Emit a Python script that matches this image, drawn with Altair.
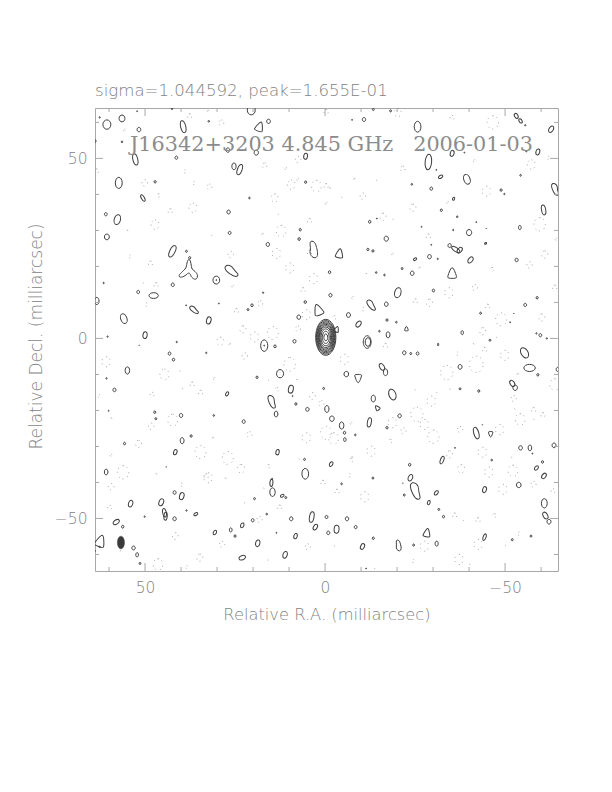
import altair as alt
import pandas as pd

# (ra, dec, length) all in milliarcsec
round_blobs = [(60.6,59.4,2.6),(56.4,61.1,1.9),(15.7,60.3,1.2),(51.7,58.0,1.2),(56.4,54.6,.5),(41.3,50.2,.9),(47.2,43.5,.7),(5.4,43.4,.7),(60.9,34.5,.9),(60.6,28.2,1.6),(26.8,35.1,1.1),(26.5,29.3,.9),(6.9,30.2,.7),(7.2,27.6,.8),(15.9,26.1,1.1),(38.5,24.2,.6),(37.6,22.4,.7),(21,39,.5),(32.3,60.3,.5),(62.6,61.4,.4),(64,54.8,.9),(27,52.3,1.2),(19.1,51.6,1.4),(42.5,63.8,.5),(52.2,63.1,.3),(20.5,63.4,2.6),
(-13.4,63.6,.6),(-18.2,63.2,.6),(-10.8,60.8,1.1),(-7.5,60.7,.3),(-55.6,59.2,.4),(-38.7,51.6,.3),(-55.9,52,.4),(-30.9,46.8,.3),(-54.3,45.3,.5),(-24.1,42.8,.5),(-29.5,41.6,.9),(-48.9,41.2,.7),(-49.8,40.1,.4),(-32.3,35.6,.7),(-36.7,33.8,.5),(-12.4,32.4,.8),(-14.4,33.3,.3),(-26.8,31,.3),(-35.6,30.1,.4),(-40,29.4,1.7),(-42,32.3,.3),(-44.8,30.5,.2),(-17,27.7,1.4),(-34.6,25.8,1.1),(-29.5,26,.3),(-11.9,24.7,.7),(-13.3,24.3,.7),(-29,22.7,1.2),(-31.3,22.1,.4),(-53.2,21.8,1),(-21.4,19.4,.6),(-24.2,18.1,1.2),(-14.2,18.3,.5),(-16.5,17.6,.5),(-1.25,18.4,.8),
(30.2,16.2,2.2),(30.2,16.2,.3),(42.3,14.9,1),(51.9,12.9,.9),(61.5,15.4,.4),(38.6,9.2,.3),(29.5,9.7,.3),(60.4,.5,.4),(41.2,-1.0,.4),(51.6,-1.9,.2),(43.2,-4.2,.9),(42.1,-5.9,.8),(33,-4,.4),(17.2,12.7,.4),(20.3,9.2,.8),(21.4,8,.6),(5.5,10.1,.8),(7.3,5.9,1.2),(8.5,-0.8,1),(16.9,-2,.3),(13.9,-2.2,.8),(60.7,-11.1,.4),(18.9,-10.8,.7),(12.5,-9.8,2.3),(.4,-13.9,.6),(58.5,-14.3,1),(9,-16,.3),(8.1,-18.2,.7),(4.9,-19.7,1.1),(47.3,-20.5,.7),(47,-22.3,.6),(40,-21.4,1.1),(30.9,-21.4,.5),(22.6,-23.1,1),(60.1,-20.1,.3),(37.2,-27.1,.7),(55.7,-29.2,.7),(5.7,-33.6,.6),(44.1,-35.7,.2),(14.7,-39,.3),
(-1.5,12,1.0),(-30.1,13.3,.8),(-17,9.5,1.2),(-6.5,6.5,1.3),(-17.2,5.1,.7),(-19.8,4.5,.5),(-15.1,2,.5),(-55.6,9.3,.9),(-58.9,11.3,.7),(-43.2,7,.6),(-51.4,4.5,.3),(-52.4,6.9,.2),(-45.8,-.5,.6),(-58.7,1.4,.4),(-59.8,.9,.9),(-61.6,0,.4),(-22,-4,1.1),(-23.8,-4.2,.6),(-25.7,-4.2,.9),(-59.1,-10.1,.7),(-37.5,-7.9,1.3),(-5.9,-9.9,1.5),(-20.7,-21.5,1.1),(-1.9,-22.3,1.5),(-17.2,-24.8,.7),(-5.4,-26.2,.8),(-8.4,-26.8,.5),(-52.8,-13.7,1.5),(-37.5,-14,.6),(-42.7,-14.6,.7),(-54.3,-30.4,1.2),(-57.6,-32,.3),(-63.6,-29.7,1.3),(-36.1,-30.4,.3),(-43.7,-24,.2),(-64.7,-8.6,1.2),
(-46.3,-33.8,.5),(-23.5,-35.1,.8),(-60.4,-34.3,.7),(-13.3,-38.8,.6),(-53.8,-40.7,1.5),(-4.6,-40.4,.5),(-21.6,-40.2,.2),(-22,-43.5,.6),(-31.6,-47.5,.6),(-32.9,-49.5,.7),(-62.2,-50.9,1.3),(-6.1,-50.1,1.1),(-8.5,-52.4,.9),(-13.4,-55.5,.7),(-52,-55.9,.6),(-57.2,-54.9,.6),(-24.6,-57.4,.6),(-11.4,-63.9,.3),
(41.8,-42.8,1),(10.9,-44.2,.6),(19.6,-44.5,.6),(56.2,-52.3,.8),(50.1,-49.5,.4),(38.5,-47.8,.4),(41.8,-50.1,1.1),(9.4,-50.1,1.1),(-.4,-49.6,.9),(20.1,-50.5,.9),(16.2,-48.8,.5),(25,-54.9,.7),(13.5,-54,.3),(-.9,-54,1),(53.2,-58.2,1.1),(51.4,-62.5,.6),(62.6,-57.9,.4),(64,-59,.5)]

# (ra, dec, length, position angle)
oval_blobs = [(25.3,47.8,1.9,0),(5.4,50.6,1.7,10),(57.3,43.2,3.1,0),(57.7,33.0,2.8,15),
(-53.1,61.8,1.5,150),(-54.3,60.4,1.3,150),(-25.7,58.8,3.0,0),(-62.8,58.1,1.9,35),(-35.3,51.4,1.7,15),(-59.1,51.8,1.7,15),(-32.1,44.9,1.3,60),(-39.4,44.2,2.8,160),(-35.7,38.8,.9,20),(-54.1,30.8,1.2,0),(-44.6,26.4,.6,60),(-37.4,24.5,1.8,40),(-25,22,1,60),(-40.4,21.8,1.9,40),
(47.6,11.9,2.6,90),(63.4,10.4,2,0),(32.3,5,2,15),(55.9,5.5,2.8,160),(50,.9,1.9,10),(16.9,-2,3.2,0),(54.9,-8.9,2,0),(9.5,-14.1,2.2,10),(27.2,-15.4,1.2,30),(-.5,-19.6,1.9,0),(13.6,-21,1.6,0),(39.7,-28.4,1.7,0),(41.6,-31.6,1.5,20),(13.2,-31.6,1.5,10),(60.8,-37.1,1.6,0),(5.5,-37.6,3,0),
(-20.2,12.7,2.8,15),(-9.3,4,1.9,40),(-17.5,1,1.7,0),(-11.7,-1,3.5,0),(-11.9,-1,2.4,0),(-38.1,1.6,1.1,0),(-55.4,-4,3.1,150),(-56.8,-8.2,3.2,90),(-15.8,-7.9,2,150),(-16.8,-9.4,1.9,0),(-18.7,-15.6,3.1,160),(-13.4,-16.7,1.9,0),(-4.6,-24.2,2,0),(-5.5,-28.1,1.1,0),(-52,-12.5,1.9,150),(-56.9,-30.4,1.6,0),
(-1.7,-34.9,1.4,30),(-58.7,-36,1.4,40),(-60.8,-38.2,1.7,35),(-23.7,-38.7,1.9,25),(-44.3,-42,1.7,15),(-30.9,-42.9,1.4,40),(-28.8,-45.6,1.2,20),(-60.9,-45.8,2.6,0),(-61.2,-49.2,2,150),(-3.2,-53,2.2,5),(-10.4,-57.8,1.7,25),(-31,-57,1.4,0),
(14.6,-42.7,2.4,0),(39.8,-43.8,2,15),(11.9,-43.7,1.1,60),(54,-45.9,1.9,20),(45.5,-45.5,2,20),(58,-51,1.9,60),(35.9,-48.8,1.2,60),(23,-51.9,1.4,25),(2.7,-52.4,1.7,30),(30.6,-53.9,1.3,30),(26.2,-53.2,1.2,0),(8.2,-54.9,1.5,15),(18.7,-56.9,1.9,15),(52.2,-60.1,1.2,0),(23,-60.9,1.9,70),(11.1,-60.1,1.9,20)]

narrow_blobs = [(39.4,58.8,3.4,165),(52.7,49.7,3.2,165),(23.7,46.9,3.0,20),(50.6,39.0,2.0,150),(42.4,24.2,3.5,25),
(-28.7,49,4.3,5),(-60.7,35.7,2.8,170),(-36.3,24.7,2.6,125),(-31.4,-1.7,.8,0),(-42,-26.3,3.3,165),(-12.3,-23.3,2.6,10),(-32.5,-33.8,2.2,20),(-44.3,-55.2,1.9,20),
(14.9,-40.1,2,5),(44.6,-48.4,2.4,170),(44.3,-49.4,2.2,5),(3.7,-49.6,3,10)]

bell_blobs = [(18.2,58.8,2.8,20),(-4,23.6,2.6,10),(-35.3,18.1,3.1,0),(1.9,7.9,3.2,340),(-22.6,2.7,1.3,0),(-9.2,-11.1,2.4,180),(-14.5,-19.3,1.5,320),(-46,-26.6,1.6,180),(-28.3,-54,2.4,10),(62.4,-56.3,3.4,20),(-3.2,2.5,1.7,20)]

bean_blobs = [(3.2,24.7,4.6,0),(-63.9,41.4,3.4,170),(26,18.7,4.2,140),(36.4,7.9,2.8,140),(14.8,-17.6,3.7,170),(-12.8,9.2,3.3,155),(-25.1,-42.4,4.8,170),(-20.4,-57.5,3,0)]

forked_blobs = [(37.8,19,5.8,0)]

# negative contours (ra, dec, length)
negative_blobs = [(50.1,43.2,1.8),(32.1,42.1,1.6),(36.7,36.3,2.6),(43,35.3,1.4),(47.2,31.6,2.6),(54.9,29.8,.5),(46.3,39.7,1),(36.5,43.2,.9),(39,46.4,.9),(63.5,46.4,1.4),(37.6,61.7,1.4),(28.8,59.9,1.6),(32.5,63.1,.6),(55.7,57.8,.7),(16.8,48,1.5),(10.8,47.1,.7),(7.5,49.7,1.8),(9.4,42.7,2.6),(7.5,44.1,.7),(2.4,42.3,3.2),(-.3,42.3,1.4),(14,39,2.3),(-.3,37.5,.7),(4.3,32.6,1.4),(12.2,29.8,3.2),(17.3,28.9,.6),(31.6,28.6,.3),(13.1,34.4,.3),(13.5,23.6,2.8),(4.3,23.8,1.4),(26.2,23.3,1.8),(54.3,22.8,.9),(-.3,62.9,1.4),
(48.5,20.8,1.4),(9.8,19.6,2.8),(3.2,16.6,2.8),(6.1,13.4,1.4),(5.2,6.6,2.8),(7.5,2.7,1.6),(18,9.7,1.6),(24.6,7.6,1.4),(22.8,2.5,2),(46.9,14.8,1.4),(50.6,15.3,.4),(25.6,14.5,.7),(49.7,9.4,.9),(19.6,.4,2.8),(14.5,1.5,3.6),(29.1,-.8,2.3),(26.4,-1.7,.6),(22.3,-4.9,1.8),(60.8,-6.5,2.8),(44.6,-10,3),(40.4,-9.1,.3),(9.8,-7.2,3.8),(30.7,-11.2,.7),(36.9,-12.8,1.4),(34.6,-15.1,1.4),(48,-15.6,1.3),(62.8,-16,.8),(13.3,-14.2,1.1),(7.8,-11.6,.5),(3.5,-16,1.9),(1,-18.1,1.6),(42.3,-22.7,3.3),(48.3,-24.4,1.8),(59.4,-22.3,.5),(21,-26.7,1.6),(-.3,-26.2,3.6),(31.1,-27.7,.6),(51.8,-29.3,2),(5.2,-27.6,2.8),(34.6,-31.6,3.6),(59.4,-32.5,.7),(27,-33.2,3.6),(7.3,-33.6,.4),(23.3,-36.2,2.4),(56.1,-37.2,3.7),(33,-38.3,1.4),(15.7,-35.5,1),(46.9,-37.8,.5),(27.6,-39,.5),(39.7,-14,.3),(15.8,-11.7,.3),
(-20.2,62.7,2.3),(-35.3,61.3,1.3),(-46.6,60,3.7),(-8.2,44.2,.6),(-1.3,41.6,.5),(-10.5,39.5,1.8),(-4.5,39.1,.4),(-14.2,43.9,.3),(-21.6,47.1,1.5),(-24.4,36.3,2),(-41.5,49.3,.7),(-44.8,40.9,2.8),(-34.1,37.7,.7),(-57.3,48.3,2.6),(-61.9,50.2,.9),(-59.6,31.7,3.7),(-64.2,27.5,.7),(-28.7,28.3,1.4),(-16.1,33.8,2),(-18.8,32.9,.4),(-18.8,23.4,.7),(-61,23.3,2),(-56.8,20.4,1.8),(-26.3,19.5,.6),(-46.4,19.2,1.1),(-11.4,17.8,.5),
(-7.7,11.3,.7),(-10.5,8.2,.9),(-2.6,5.8,1.1),(-5.4,-5.8,2.8),(-16.8,-2.1,1.4),(-25.1,10.3,1.4),(-29,9.9,2),(-34.4,12.7,2.8),(-41.6,14.1,1.7),(-45.2,8.8,1.4),(-48.9,5.3,3.6),(-60.2,5.8,2),(-63.8,14.1,1.4),(-43.8,2,2),(-41.2,-1.7,.5),(-47.5,.2,.4),(-44.3,-3.2,1.4),(-36.7,-4.2,.9),(-49.9,-4.7,2.8),(-42,-7.2,4.5),(-33.8,-9.5,4),(-53.6,-10,.6),(-63.8,-12.8,3.2),(-29.5,-17.4,2.8),(-52.4,-16.7,1.7),(-24.9,-14.4,.4),(-34.6,-14.2,.4),(-30.9,-15.1,.3),(-25.5,-21.1,4),(-27.6,-23.9,2.8),(-30.1,-27.3,3.7),(-18.7,-23.4,2.8),(-21.8,-25.7,1.7),(-18.2,-28.5,1.1),(-7.3,-23.6,.7),(-2.4,-27.8,3.2),(-54.2,-22.5,3.2),(-52.6,-19.7,.4),(-57.9,-19.9,1.4),(-60.5,-21.3,1.4),(-37.5,-25.3,1.7),(-48.5,-25.3,2.8),(-57.9,-22.5,.3),(-12.8,-31.3,2.8),(-43.7,-31.6,2.8),(-34.6,-32.2,2),(-7.5,-33.1,.5),(-51.7,-33.1,.4),
(-37.8,-36.2,2.3),(-45.5,-37.1,2.8),(-52.2,-36.8,3.2),(-57.9,-40.5,1.7),(-49.4,-41.9,2.8),(-63.3,-42.4,1.3),(-11,-44,2.8),(-7.3,-33.8,1.1),(-6.8,-38,.9),(-3.3,-42.6,1.4),(-36,-49.2,1.4),(-38.3,-50.7,.4),(-42.5,-50.5,1.4),(-47.1,-49.2,1.1),(-53.7,-54.2,.9),(-42.5,-57.2,2.8),(-27.6,-57.7,2.8),(-50,-57.5,.3),(-37.2,-61.4,2.8),(-24.4,-61.8,.9),(-40.1,-62.8,.4),(-13.7,-64,.3),(-2.5,-57.7,.3),
(32.5,-38.7,2.8),(59.4,-41.2,1.8),(39.9,-40.6,.9),(.6,-40.1,1.4),(59.8,-47,1.3),(22.5,-45.7,.3),(17.1,-41.7,.4),(12.6,-47,1.4),(18.2,-50.3,1.7),(41.6,-54.9,1.9),(28.6,-57.2,1.7),(4.8,-57.9,1.7),(34.8,-60.9,2),(46.4,-62.8,3.2),(38.4,-63.5,.8),(15.9,-61.6,.3),(56.9,-59.1,.4)]

core_lengths = [10, 9.3, 8.6, 7.9, 7.2, 6.5, 5.7, 4.7, 3.4, 1.9]
core_pos = (-0.2, 0.3)
beam = (56.7, -56.7, 3.5)

major_ticks = [50, 0, -50]
minor_ticks = [60, 40, 30, 20, 10, -10, -20, -30, -40, -60]

subtitle = "sigma=1.044592, peak=1.655E-01"
map_title = "J16342+3203 4.845 GHz\u00a0\u00a0\u00a02006-01-03"
x_title = "Relative R.A. (milliarcsec)"
y_title = "Relative Decl. (milliarcsec)"

INK = "#3c3c3c"
TEXT = "#828282"
FRAME = "#a8a8a8"
SIZE = 463

SHAPES = {
 "round": "M0,-1C0.47,-1 0.85,-0.55 0.85,0C0.85,0.55 0.47,1 0,1C-0.47,1 -0.85,0.55 -0.85,0C-0.85,-0.55 -0.47,-1 0,-1Z",
 "oval": "M0,-1C0.34,-1 0.62,-0.55 0.62,0C0.62,0.55 0.34,1 0,1C-0.34,1 -0.62,0.55 -0.62,0C-0.62,-0.55 -0.34,-1 0,-1Z",
 "narrow": "M0,-1C0.23,-1 0.42,-0.55 0.42,0C0.42,0.55 0.23,1 0,1C-0.23,1 -0.42,0.55 -0.42,0C-0.42,-0.55 -0.23,-1 0,-1Z",
 "bell": "M0,-1C0.3,-1 0.8,0.5 0.8,0.7C0.8,1 -0.8,1 -0.8,0.7C-0.8,0.5 -0.3,-1 0,-1Z",
 "bean": "M-0.2,-1C0.2,-1 0.3,-0.5 0.4,-0.1C0.5,0.3 0.6,0.9 0.2,1C-0.2,1 -0.5,0.6 -0.4,0.1C-0.3,-0.3 -0.6,-1 -0.2,-1Z",
 "fork": "M0,-1C0.2,-1 0.2,-0.3 0.3,-0.1C0.5,0.1 0.9,0.3 0.8,0.7C0.7,1 0.4,0.9 0.2,0.6C0.1,0.3 0,0.2 -0.2,0.4C-0.4,0.6 -0.8,0.8 -0.95,0.6C-1,0.4 -0.5,0.1 -0.3,-0.2C-0.2,-0.4 -0.2,-1 0,-1Z",
 "core": "M0,-1C0.31,-1 0.56,-0.55 0.56,0C0.56,0.55 0.31,1 0,1C-0.31,1 -0.56,0.55 -0.56,0C-0.56,-0.55 -0.31,-1 0,-1Z",
}

rows = []
for r, d, l in round_blobs:
    rows.append(dict(ra=r, dec=d, length=l, kind="round", angle=0))
for name, group in (("oval", oval_blobs), ("narrow", narrow_blobs), ("bell", bell_blobs), ("bean", bean_blobs), ("fork", forked_blobs)):
    for r, d, l, a in group:
        rows.append(dict(ra=r, dec=d, length=l, kind=name, angle=a))
for l in core_lengths:
    rows.append(dict(ra=core_pos[0], dec=core_pos[1], length=l, kind="core", angle=0))
solid = pd.DataFrame(rows)
negative = pd.DataFrame([dict(ra=r, dec=d, length=l, kind="round", angle=0) for r, d, l in negative_blobs])
beam_df = pd.DataFrame([dict(ra=beam[0], dec=beam[1], length=beam[2], kind="core", angle=0)])

font = "DejaVu Sans"
x_scale = alt.Scale(domain=[63.9, -64.7], nice=False, zero=False)
y_scale = alt.Scale(domain=[-64.6, 64.0], nice=False, zero=False)
x_axis = alt.Axis(values=major_ticks, format="d", title=x_title, grid=False, ticks=False, domain=False,
                  labelFont=font, labelFontWeight=200, labelFontSize=15.5, labelColor=TEXT, labelPadding=9,
                  titleFont=font, titleFontWeight=200, titleFontSize=16.3, titleColor=TEXT, titlePadding=11)
y_axis = alt.Axis(values=major_ticks, format="d", title=y_title, grid=False, ticks=False, domain=False,
                  labelFont=font, labelFontWeight=200, labelFontSize=15.5, labelColor=TEXT, labelPadding=8,
                  titleFont=font, titleFontWeight=200, titleFontSize=17, titleColor=TEXT, titlePadding=9, titleY=228)
X = alt.X("ra:Q", scale=x_scale, axis=x_axis)
Y = alt.Y("dec:Q", scale=y_scale, axis=y_axis)
shape = alt.Shape("kind:N", scale=alt.Scale(domain=list(SHAPES), range=list(SHAPES.values())), legend=None)
size = alt.Size("length:Q", scale=alt.Scale(type="pow", exponent=2, domain=[0, 10], range=[0, 1296]), legend=None)
angle = alt.Angle("angle:Q", scale=None)

negative_layer = alt.Chart(negative).mark_point(filled=False, stroke="#7c7c7c", strokeWidth=0.9, strokeDash=[1, 3, 1, 4.5], clip=True).encode(x=X, y=Y, shape=shape, size=size, angle=angle)
solid_layer = alt.Chart(solid).mark_point(filled=False, stroke=INK, strokeWidth=1, opacity=1, clip=True).encode(x=X, y=Y, shape=shape, size=size, angle=angle)
beam_layer = alt.Chart(beam_df).mark_point(filled=True, fill="#3a3a3a", stroke="#3a3a3a", strokeWidth=0.5, opacity=1).encode(x=X, y=Y, shape=shape, size=size, angle=angle)

def x_rules(values, length):
    d = pd.DataFrame({"ra": values})
    top = alt.Chart(d).mark_rule(color=FRAME, strokeWidth=1).encode(x=X, y=alt.value(0), y2=alt.value(length))
    bottom = alt.Chart(d).mark_rule(color=FRAME, strokeWidth=1).encode(x=X, y=alt.value(SIZE), y2=alt.value(SIZE - length))
    return [top, bottom]

def y_rules(values, length):
    d = pd.DataFrame({"dec": values})
    left = alt.Chart(d).mark_rule(color=FRAME, strokeWidth=1).encode(y=Y, x=alt.value(0), x2=alt.value(length))
    right = alt.Chart(d).mark_rule(color=FRAME, strokeWidth=1).encode(y=Y, x=alt.value(SIZE), x2=alt.value(SIZE - length))
    return [left, right]

rules = x_rules(major_ticks, 8) + x_rules(minor_ticks, 4) + y_rules(major_ticks, 8) + y_rules(minor_ticks, 4)

sub_layer = alt.Chart(pd.DataFrame({"t": [subtitle]})).mark_text(align="left", baseline="alphabetic", font=font, fontWeight=200, fontSize=16.6, color=TEXT).encode(x=alt.value(0), y=alt.value(-12), text="t:N")
title_layer = alt.Chart(pd.DataFrame({"t": [map_title]})).mark_text(align="left", baseline="alphabetic", font="DejaVu Serif", fontWeight=200, fontSize=20.8, color="#8c8c8c").encode(x=alt.value(35), y=alt.value(43), text="t:N")

chart = alt.layer(negative_layer, solid_layer, beam_layer, *rules, sub_layer, title_layer).properties(
    width=SIZE, height=SIZE,
    padding={"left": 87, "top": 100, "right": 20, "bottom": 150},
    autosize=alt.AutoSizeParams(type="none"),
    background="white",
).configure_view(stroke=FRAME, strokeWidth=1)

chart.save("out.html", embed_options={"renderer": "svg", "actions": False})
